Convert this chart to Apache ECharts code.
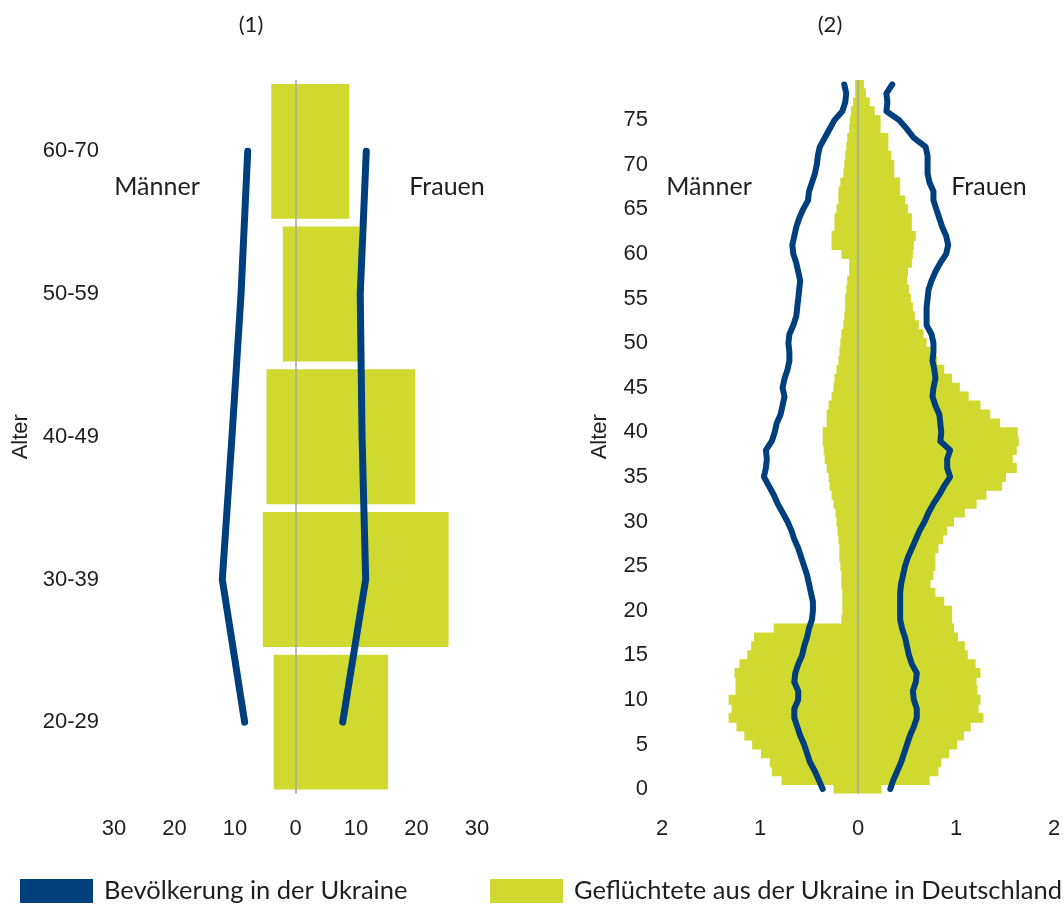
<!DOCTYPE html>
<html><head><meta charset="utf-8">
<script src="https://cdn.jsdelivr.net/npm/echarts/dist/echarts.min.js"></script>
<style>html,body{margin:0;padding:0;background:#fff}#c{width:1064px;height:911px}</style>
</head><body><div id="c"></div>
<script>
// ---------- Panel (1): age groups ----------
const p1Categories = ['20-29', '30-39', '40-49', '50-59', '60-70'];
const p1MenRefugees = [-3.6, -5.4, -4.8, -2.1, -4.0];
const p1WomenRefugees = [15.3, 25.3, 19.8, 10.5, 8.9];
const p1MenUkraine = [-8.4, -12.1, -10.5, -9.0, -7.9];
const p1WomenUkraine = [7.8, 11.6, 11.0, 10.7, 11.7];
const p1XTicks = [-30, -20, -10, 0, 10, 20, 30];

// ---------- Panel (2): single years of age 0..79 ----------
const p2Ages = Array.from({length: 80}, (_, i) => String(i));
const p2YTickStep = 5;
const p2XTicks = [-2, -1, 0, 1, 2];
const p2MenRefugees = [
  -0.25, -0.78, -0.88, -0.90, -0.99, -1.08, -1.16, -1.24, -1.32, -1.29,
  -1.32, -1.25, -1.25, -1.26, -1.21, -1.13, -1.09, -1.06, -0.86, -0.17,
  -0.16, -0.16, -0.16, -0.17, -0.17, -0.18, -0.19, -0.19, -0.20, -0.21,
  -0.22, -0.23, -0.25, -0.27, -0.29, -0.30, -0.32, -0.34, -0.35, -0.36,
  -0.36, -0.32, -0.32, -0.30, -0.27, -0.25, -0.24, -0.22, -0.20, -0.19,
  -0.18, -0.17, -0.15, -0.14, -0.13, -0.13, -0.12, -0.11, -0.09, -0.09,
  -0.17, -0.27, -0.27, -0.24, -0.24, -0.22, -0.20, -0.20, -0.18, -0.15,
  -0.14, -0.13, -0.12, -0.11, -0.09, -0.08, -0.07, -0.05, -0.03, -0.03
];
const p2WomenRefugees = [
  0.24, 0.73, 0.82, 0.85, 0.93, 1.01, 1.08, 1.15, 1.28, 1.23,
  1.25, 1.22, 1.21, 1.25, 1.20, 1.12, 1.09, 1.02, 0.98, 0.96,
  0.96, 0.88, 0.79, 0.74, 0.77, 0.79, 0.79, 0.82, 0.87, 0.91,
  0.98, 1.09, 1.21, 1.31, 1.47, 1.51, 1.62, 1.58, 1.62, 1.64,
  1.63, 1.45, 1.35, 1.25, 1.13, 1.04, 0.96, 0.88, 0.81, 0.74,
  0.70, 0.67, 0.62, 0.58, 0.56, 0.54, 0.52, 0.50, 0.51, 0.55,
  0.56, 0.57, 0.59, 0.55, 0.55, 0.51, 0.48, 0.43, 0.43, 0.37,
  0.37, 0.34, 0.31, 0.31, 0.23, 0.23, 0.17, 0.12, 0.08, 0.06
];
const p2MenUkraine = [
  -0.36, -0.40, -0.44, -0.49, -0.52, -0.55, -0.59, -0.62, -0.65, -0.65,
  -0.61, -0.61, -0.65, -0.64, -0.61, -0.57, -0.55, -0.52, -0.50, -0.47,
  -0.46, -0.46, -0.48, -0.50, -0.52, -0.55, -0.58, -0.61, -0.65, -0.68,
  -0.72, -0.77, -0.82, -0.86, -0.91, -0.96, -0.94, -0.93, -0.94, -0.88,
  -0.85, -0.83, -0.79, -0.77, -0.75, -0.77, -0.75, -0.72, -0.70, -0.70,
  -0.71, -0.70, -0.66, -0.63, -0.62, -0.61, -0.60, -0.59, -0.61, -0.63,
  -0.66, -0.67, -0.65, -0.63, -0.60, -0.56, -0.51, -0.50, -0.47, -0.44,
  -0.42, -0.41, -0.39, -0.34, -0.29, -0.24, -0.16, -0.13, -0.12, -0.14
];
const p2WomenUkraine = [
  0.33, 0.36, 0.40, 0.44, 0.47, 0.50, 0.53, 0.57, 0.60, 0.60,
  0.57, 0.56, 0.59, 0.60, 0.55, 0.52, 0.50, 0.48, 0.45, 0.43,
  0.43, 0.43, 0.43, 0.44, 0.46, 0.48, 0.51, 0.55, 0.59, 0.63,
  0.68, 0.72, 0.77, 0.83, 0.88, 0.94, 0.91, 0.91, 0.94, 0.84,
  0.85, 0.84, 0.83, 0.79, 0.76, 0.77, 0.79, 0.78, 0.76, 0.77,
  0.77, 0.75, 0.70, 0.70, 0.70, 0.71, 0.72, 0.75, 0.79, 0.84,
  0.90, 0.92, 0.90, 0.86, 0.83, 0.80, 0.77, 0.77, 0.73, 0.71,
  0.71, 0.71, 0.69, 0.57, 0.50, 0.42, 0.29, 0.30, 0.29, 0.35
];

const NAME_UA = 'Bevölkerung in der Ukraine';
const NAME_REF = 'Geflüchtete aus der Ukraine in Deutschland';
const BLUE = '#003f7d';
const GREEN = '#d0d930';
const TXT = '#1e1e1e';
const AXFONT = '"Liberation Sans", Arial, sans-serif';
const SFONT = 'Lato, "Open Sans", sans-serif';

const chart = echarts.init(document.getElementById('c'), null, {renderer: 'canvas'});

function zeroLine() {
  return {
    silent: true, symbol: ['none', 'none'], label: {show: false},
    lineStyle: {color: '#a6a6a6', width: 1.5, type: 'solid'},
    emphasis: {disabled: true},
    data: [{xAxis: 0}]
  };
}

function lineSeries(xi, data, width) {
  return {
    name: NAME_UA, type: 'line', xAxisIndex: xi, yAxisIndex: xi, data: data,
    showSymbol: false, symbol: 'none', smooth: false, z: 5,
    itemStyle: {color: BLUE},
    lineStyle: {color: BLUE, width: width, cap: 'round', join: 'round'},
    emphasis: {disabled: true}, animation: false
  };
}

function barSeries(xi, data, withZero) {
  const s = {
    name: NAME_REF, type: 'bar', xAxisIndex: xi, yAxisIndex: xi, data: data,
    barGap: '-100%', z: 2,
    itemStyle: {color: GREEN},
    emphasis: {disabled: true}, animation: false
  };
  if (xi === 0) s.barCategoryGap = '5.5%';
  else s.barWidth = '112%';   // slight overlap so stepped rows have no seams
  if (withZero) s.markLine = zeroLine();
  return s;
}

const option = {
  animation: false,
  backgroundColor: '#ffffff',
  grid: [
    {left: 114, right: 587, top: 80, bottom: 117.5, containLabel: false, outerBoundsMode: 'none'},
    {left: 662, right: 10, top: 80, bottom: 117.5, containLabel: false, outerBoundsMode: 'none'}
  ],
  xAxis: [
    {
      type: 'value', gridIndex: 0, min: p1XTicks[0], max: p1XTicks[p1XTicks.length - 1], interval: 10,
      axisLine: {show: false}, axisTick: {show: false}, splitLine: {show: false},
      axisLabel: {margin: 24, fontSize: 22, color: TXT, fontFamily: AXFONT,
        formatter: v => String(Math.abs(v))}
    },
    {
      type: 'value', gridIndex: 1, min: p2XTicks[0], max: p2XTicks[p2XTicks.length - 1], interval: 1,
      axisLine: {show: false}, axisTick: {show: false}, splitLine: {show: false},
      axisLabel: {margin: 24, fontSize: 22, color: TXT, fontFamily: AXFONT,
        formatter: v => String(Math.abs(v))}
    }
  ],
  yAxis: [
    {
      type: 'category', gridIndex: 0, data: p1Categories,
      axisLine: {show: false}, axisTick: {show: false}, splitLine: {show: false},
      axisLabel: {margin: 15, fontSize: 22, color: TXT, fontFamily: AXFONT},
      name: 'Alter', nameLocation: 'middle', nameRotate: 90, nameGap: 82,
      nameTextStyle: {fontSize: 22, color: TXT, fontFamily: AXFONT}
    },
    {
      type: 'category', gridIndex: 1, data: p2Ages,
      axisLine: {show: false}, axisTick: {show: false}, splitLine: {show: false},
      axisLabel: {margin: 14, fontSize: 22, color: TXT, fontFamily: AXFONT,
        interval: (idx) => idx % p2YTickStep === 0},
      name: 'Alter', nameLocation: 'middle', nameRotate: 90, nameGap: 51,
      nameTextStyle: {fontSize: 22, color: TXT, fontFamily: AXFONT}
    }
  ],
  legend: [
    {
      data: [NAME_UA], left: 20, top: 878, padding: 0, icon: 'rect',
      itemWidth: 73, itemHeight: 24, selectedMode: false,
      textStyle: {fontSize: 25.5, color: TXT, fontFamily: SFONT, padding: [0, 0, 0, 6]}
    },
    {
      data: [NAME_REF], left: 490, top: 878, padding: 0, icon: 'rect',
      itemWidth: 73, itemHeight: 24, selectedMode: false,
      textStyle: {fontSize: 25.5, color: TXT, fontFamily: SFONT, padding: [0, 0, 0, 6]}
    }
  ],
  graphic: [
    {type: 'text', x: 251, y: 25, silent: true, style: {text: '(1)', font: '22px ' + SFONT, fill: TXT, align: 'center', verticalAlign: 'middle'}},
    {type: 'text', x: 830, y: 25, silent: true, style: {text: '(2)', font: '22px ' + SFONT, fill: TXT, align: 'center', verticalAlign: 'middle'}},
    {type: 'text', x: 157, y: 187, silent: true, style: {text: 'Männer', font: '25px ' + SFONT, fill: TXT, align: 'center', verticalAlign: 'middle'}},
    {type: 'text', x: 447, y: 187, silent: true, style: {text: 'Frauen', font: '25px ' + SFONT, fill: TXT, align: 'center', verticalAlign: 'middle'}},
    {type: 'text', x: 709, y: 187, silent: true, style: {text: 'Männer', font: '25px ' + SFONT, fill: TXT, align: 'center', verticalAlign: 'middle'}},
    {type: 'text', x: 989, y: 187, silent: true, style: {text: 'Frauen', font: '25px ' + SFONT, fill: TXT, align: 'center', verticalAlign: 'middle'}}
  ],
  series: [
    barSeries(0, p1MenRefugees, false),
    barSeries(0, p1WomenRefugees, true),
    lineSeries(0, p1MenUkraine, 7),
    lineSeries(0, p1WomenUkraine, 7),
    barSeries(1, p2MenRefugees, false),
    barSeries(1, p2WomenRefugees, true),
    lineSeries(1, p2MenUkraine, 6),
    lineSeries(1, p2WomenUkraine, 6)
  ]
};
chart.setOption(option);
</script>
</body></html>
